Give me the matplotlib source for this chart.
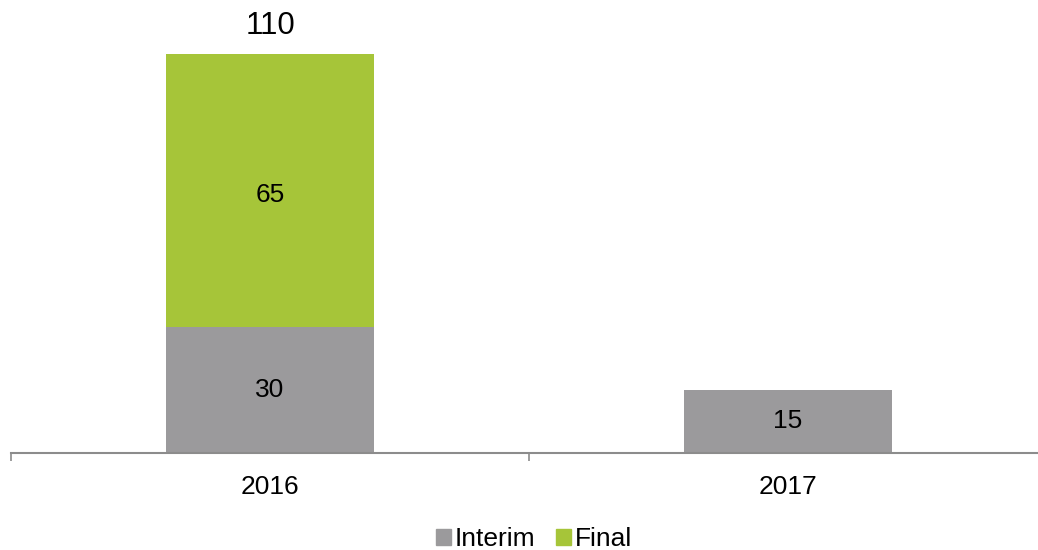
import matplotlib
matplotlib.use("Agg")
import matplotlib.pyplot as plt
from matplotlib.patches import Patch

plt.rcParams['font.family'] = ['Liberation Sans', 'DejaVu Sans']

years = ["2016", "2017"]
interim = [30, 15]
final = [65, 0]
total_labels = ["110", None]

GRAY = "#9b9a9c"
GREEN = "#a6c539"
AXIS = "#8c8c8c"

W, H = 1038, 550
fig = plt.figure(figsize=(W / 100, H / 100), dpi=100)
# axis baseline at y=453 px, 4.2 px per unit
base_px = 453
scale = 4.2
ymax = 100
ax = fig.add_axes([11 / W, (H - base_px) / H, 1036 / W, ymax * scale / H])

x = list(range(len(years)))
bw = 0.40
ax.bar(x, interim, width=bw, color=GRAY, zorder=2)
ax.bar(x, final, width=bw, bottom=interim, color=GREEN, zorder=2)

for i in x:
    ax.text(i, interim[i] / 2, str(interim[i]), ha="center", va="center",
            fontsize=19, color="black")
    if final[i]:
        ax.text(i, interim[i] + final[i] / 2 - 1, str(final[i]), ha="center",
                va="center", fontsize=19, color="black")
    if total_labels[i]:
        ax.annotate(total_labels[i], (i, interim[i] + final[i]),
                    xytext=(0, 20), textcoords="offset points",
                    ha="center", va="center", fontsize=22.5, color="black")

ax.set_xlim(-0.5, 1.5)
ax.set_ylim(0, ymax)
ax.set_yticks([])
for s in ["top", "right", "left"]:
    ax.spines[s].set_visible(False)
ax.spines["bottom"].set_color(AXIS)
ax.spines["bottom"].set_linewidth(1.5)

ax.set_xticks([-0.5, 0.5, 1.5])
ax.set_xticklabels([])
ax.tick_params(axis="x", length=6, width=1.2, color=AXIS)
ax.set_xticks(x, minor=True)
ax.set_xticklabels(years, minor=True, fontsize=19)
ax.tick_params(axis="x", which="minor", length=0, pad=16)

handles = [Patch(color=GRAY, label="Interim"), Patch(color=GREEN, label="Final")]
fig.legend(handles=handles, loc="center", bbox_to_anchor=(534 / W, 1 - 539 / H),
           ncol=2, frameon=False, fontsize=19, handlelength=0.55, handleheight=0.55,
           handletextpad=0.15, columnspacing=0.8, borderpad=0, borderaxespad=0)

fig.savefig("out.png", dpi=100)
